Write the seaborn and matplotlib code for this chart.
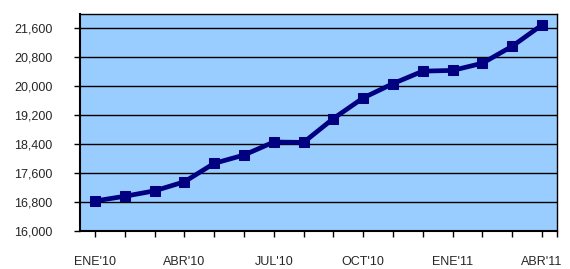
import matplotlib
matplotlib.use("Agg")
import matplotlib.pyplot as plt
import seaborn as sns
import pandas as pd

months = ["ENE'10", "FEB'10", "MAR'10", "ABR'10", "MAY'10", "JUN'10", "JUL'10", "AGO'10",
          "SEP'10", "OCT'10", "NOV'10", "DIC'10", "ENE'11", "FEB'11", "MAR'11", "ABR'11"]
values = [16830, 16960, 17110, 17360, 17870, 18100, 18460, 18450,
          19110, 19680, 20075, 20420, 20440, 20640, 21110, 21700]
y_ticks = [16000, 16800, 17600, 18400, 19200, 20000, 20800, 21600]
shown_labels = ["ENE'10", "ABR'10", "JUL'10", "OCT'10", "ENE'11", "ABR'11"]

df = pd.DataFrame({"pos": range(len(months)), "month": months, "value": values})

sns.set_theme(style="white")
plt.rcParams['font.family'] = ['Liberation Sans', 'DejaVu Sans']

fig = plt.figure(figsize=(5.7, 2.69), dpi=100)
ax = fig.add_axes([80/570, 1-231/269, (557-80)/570, (231-14)/269])
ax.set_facecolor("#99CCFF")

for yv in y_ticks[1:]:
    ax.axhline(yv, color="black", lw=1.0, zorder=1)

sns.lineplot(data=df, x="pos", y="value", ax=ax, color="#000080", lw=3.4,
             marker="s", markersize=7, markeredgecolor="#000080",
             markerfacecolor="#000080", zorder=3)

ax.set_xlim(-0.5, len(months) - 0.5)
ax.set_ylim(16000, 22000)
ax.set_yticks(y_ticks)
ax.set_yticklabels([f"{v:,}" for v in y_ticks], fontsize=9)
ax.set_xticks(list(df["pos"]))
ax.set_xticklabels([m if m in shown_labels else "" for m in months], fontsize=9)
ax.set_xticks([len(months) - 0.5], minor=True)
ax.tick_params(axis="x", which="both", direction="out", length=4, width=1, color="black", pad=14, bottom=True)
ax.tick_params(axis="y", direction="out", length=4, width=1, color="black", pad=16, left=True)
ax.set_xlabel("")
ax.set_ylabel("")
for s in ax.spines.values():
    s.set_color("black")
    s.set_linewidth(1.0)
ax.spines["left"].set_linewidth(1.5)
ax.spines["bottom"].set_linewidth(1.5)

fig.savefig("out.png", dpi=100)
